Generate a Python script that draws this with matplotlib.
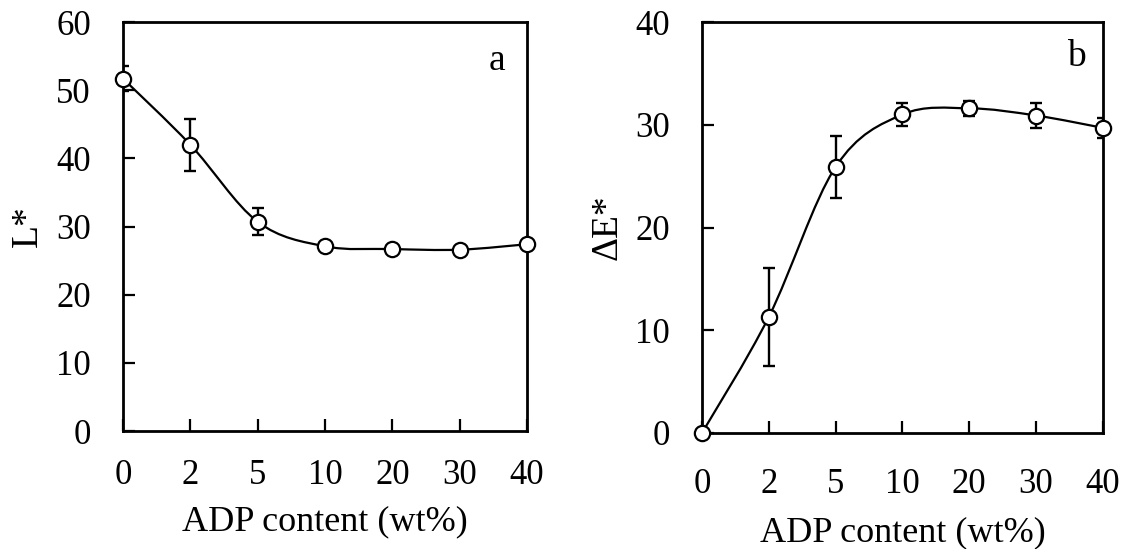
import numpy as np
import matplotlib
matplotlib.use("Agg")
import matplotlib.pyplot as plt
from matplotlib.path import Path
from matplotlib.patches import PathPatch

# =========================
# Data
# =========================
adp_labels = ['0', '2', '5', '10', '20', '30', '40']

l_star = [51.7, 42.0, 30.7, 27.1, 26.7, 26.6, 27.4]
l_star_err = [1.8, 3.8, 2.0, 0.0, 0.0, 0.0, 0.0]

delta_e = [0.0, 11.3, 25.9, 31.0, 31.6, 30.9, 29.7]
delta_e_err = [0.0, 4.75, 3.0, 1.1, 0.75, 1.2, 1.0]

plt.rcParams['font.family'] = ['Liberation Serif', 'DejaVu Serif']


# =========================
# Excel-like smoothed line
# =========================
def smooth_path(x, y):
    pts = np.column_stack([x, y]).astype(float)
    padded = np.vstack([pts[0], pts, pts[-1]])
    verts = [pts[0]]
    codes = [Path.MOVETO]
    for i in range(len(pts) - 1):
        p0, p1, p2, p3 = padded[i], padded[i + 1], padded[i + 2], padded[i + 3]
        c1 = p1 + (p2 - p0) / 6.0
        c2 = p2 - (p3 - p1) / 6.0
        verts += [c1, c2, p2]
        codes += [Path.CURVE4] * 3
    return Path(verts, codes)


# =========================
# One panel
# =========================
def draw_panel(ax, values, errors, ylim, ylabel, letter, letter_pos,
               xtick_pad, xlabel_pad, ylabel_pad):
    x = np.arange(len(adp_labels))
    ax.add_patch(PathPatch(smooth_path(x, values), facecolor='none',
                           edgecolor='black', lw=1.6, zorder=2))
    ax.errorbar(x, values, yerr=errors, fmt='none', ecolor='black',
                elinewidth=1.7, capsize=4.5, capthick=1.7, zorder=3)
    ax.plot(x, values, linestyle='none', marker='o', markersize=11,
            markerfacecolor='white', markeredgecolor='black',
            markeredgewidth=1.6, zorder=4, clip_on=False)

    ax.set_xlim(0, len(adp_labels) - 1)
    ax.set_ylim(*ylim)
    ax.set_xticks(x)
    ax.set_xticklabels(adp_labels)
    ax.set_yticks(np.arange(ylim[0], ylim[1] + 1, 10))

    ax.tick_params(axis='both', direction='in', length=8.5, width=1.6,
                   labelsize=25)
    ax.tick_params(axis='x', pad=xtick_pad)
    ax.tick_params(axis='y', pad=23)
    for spine in ax.spines.values():
        spine.set_linewidth(2.0)

    ax.set_xlabel("ADP content (wt%)", fontsize=26, labelpad=xlabel_pad)
    ax.set_ylabel(ylabel, fontsize=27, labelpad=ylabel_pad)
    ax.text(letter_pos[0], letter_pos[1], letter, transform=ax.transAxes,
            fontsize=27, ha='center', va='center')


# =========================
# MAIN
# =========================
def main():
    fig = plt.figure(figsize=(11.21, 5.49), dpi=100)
    ax_a = fig.add_axes([0.1097, 0.2149, 0.3604, 0.7450])
    ax_b = fig.add_axes([0.6262, 0.2113, 0.3577, 0.7486])

    draw_panel(ax_a, l_star, l_star_err, (0, 60), "L*", "a", (0.926, 0.905),
               20, 10, 8)
    draw_panel(ax_b, delta_e, delta_e_err, (0, 40), "ΔE*", "b", (0.935, 0.915),
               25, 11, 8)

    fig.savefig("out.png", dpi=100)
    plt.close(fig)


if __name__ == "__main__":
    main()
